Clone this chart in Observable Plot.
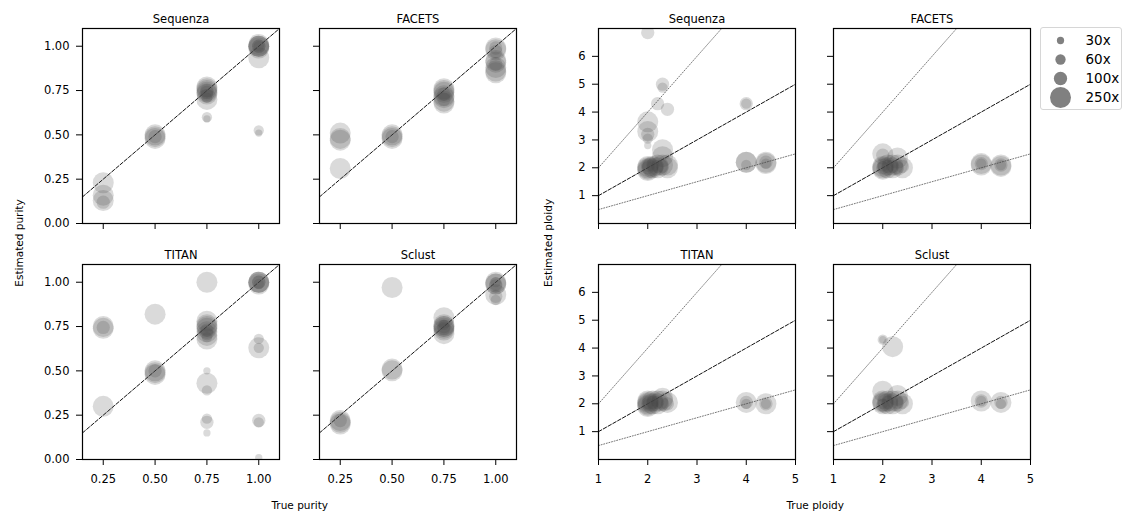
<!DOCTYPE html>
<html>
<head>
<meta charset="utf-8">
<script src="https://cdn.jsdelivr.net/npm/d3@7"></script>
<script src="https://cdn.jsdelivr.net/npm/@observablehq/plot@0.6"></script>
<style>
  body { margin: 0; background: #fff; }
  #chart { position: relative; width: 1123px; height: 514px; background: #fff; font-family: "DejaVu Sans", sans-serif; overflow: hidden; }
  .panel { position: absolute; }
  .lab { position: absolute; font-size: 10.5px; color: #000; white-space: nowrap; font-family: "DejaVu Sans", sans-serif; }
  #legend { position: absolute; left: 1040px; top: 27px; width: 82px; height: 83px; box-sizing: border-box; border: 1px solid #d6d6d6; border-radius: 3px; background: #fff; }
</style>
</head>
<body>
<div id="chart"></div>
<script>
// ---------- data ----------
const methods = ["Sequenza", "FACETS", "TITAN", "Sclust"];
const coverageLevels = [30, 60, 100, 250];
const coverageLabels = ["30x", "60x", "100x", "250x"];

const purityXDomain = [0.15, 1.1];
const purityYDomain = [0, 1.1];
const purityXTicks = [0.25, 0.5, 0.75, 1.0];
const purityYTicks = [0, 0.25, 0.5, 0.75, 1.0];

const ploidyXDomain = [1, 5];
const ploidyYDomain = [0, 7];
const ploidyXTicks = [1, 2, 3, 4, 5];
const ploidyYTicks = [1, 2, 3, 4, 5, 6];
const ploidyRefSlopes = [1, 2, 0.5];   // y = x (dashed), y = 2x, y = x/2 (dotted)

// [true, estimated, coverage]
const sequenzaPurity = [
  [0.25,0.23,250],[0.25,0.16,250],[0.25,0.13,250],[0.25,0.12,100],
  [0.5,0.50,250],[0.5,0.49,250],[0.5,0.49,100],[0.5,0.48,250],
  [0.75,0.77,250],[0.75,0.76,250],[0.75,0.75,250],[0.75,0.75,100],[0.75,0.74,250],[0.75,0.74,100],[0.75,0.73,250],[0.75,0.72,100],[0.75,0.71,60],[0.75,0.70,250],
  [0.75,0.60,60],[0.75,0.59,30],
  [1,1.00,250],[1,1.00,250],[1,1.00,250],[1,1.00,100],[1,1.00,100],[1,0.99,250],[1,1.01,250],[1,1.00,60],
  [1,0.935,250],
  [1,0.525,60],[1,0.51,30]
];
const facetsPurity = [
  [0.25,0.51,250],[0.25,0.48,250],[0.25,0.47,250],[0.25,0.31,250],
  [0.5,0.50,250],[0.5,0.49,250],[0.5,0.49,100],[0.5,0.48,250],
  [0.75,0.76,250],[0.75,0.75,250],[0.75,0.74,250],[0.75,0.73,100],[0.75,0.72,250],[0.75,0.71,250],[0.75,0.70,100],[0.75,0.69,250],[0.75,0.68,250],
  [1,0.99,250],[1,0.98,250],[1,0.97,100],[1,0.99,100],[1,0.92,250],[1,0.91,250],[1,0.90,100],[1,0.88,250],[1,0.86,250],[1,0.85,250]
];
const titanPurity = [
  [0.25,0.75,250],[0.25,0.74,250],[0.25,0.745,100],[0.25,0.30,250],
  [0.5,0.82,250],[0.5,0.50,250],[0.5,0.49,250],[0.5,0.48,250],[0.5,0.50,100],
  [0.75,1.00,250],
  [0.75,0.78,250],[0.75,0.76,250],[0.75,0.75,250],[0.75,0.74,250],[0.75,0.73,100],[0.75,0.72,250],[0.75,0.71,100],[0.75,0.70,250],[0.75,0.69,60],[0.75,0.68,250],
  [0.75,0.50,30],[0.75,0.43,250],[0.75,0.39,60],[0.75,0.23,60],[0.75,0.21,100],[0.75,0.15,30],
  [1,1.00,250],[1,1.00,250],[1,1.00,250],[1,0.99,250],[1,1.00,100],[1,1.00,100],[1,0.99,60],
  [1,0.68,60],[1,0.63,250],[1,0.63,60],[1,0.22,100],[1,0.21,60],[1,0.01,30]
];
const sclustPurity = [
  [0.25,0.22,250],[0.25,0.21,250],[0.25,0.22,100],[0.25,0.20,250],
  [0.5,0.97,250],[0.5,0.51,250],[0.5,0.50,250],
  [0.75,0.80,250],[0.75,0.76,250],[0.75,0.75,250],[0.75,0.75,250],[0.75,0.74,250],[0.75,0.75,100],[0.75,0.74,100],[0.75,0.76,60],[0.75,0.73,250],[0.75,0.71,250],
  [1,0.99,250],[1,1.00,250],[1,0.99,250],[1,0.98,100],[1,0.99,100],[1,1.00,60],[1,0.93,250],[1,0.92,100],[1,0.90,60]
];

const sequenzaPloidy = [
  [2.0,6.85,100],[2.0,3.65,250],[2.0,3.3,250],[2.0,3.2,100],[2.0,3.05,60],[2.0,2.8,30],
  [2.2,4.3,100],[2.3,5.0,100],[2.3,4.88,60],[2.4,4.1,100],
  [2.0,2.05,250],[2.0,2.0,250],[2.0,1.95,250],[2.0,2.0,100],[2.0,1.9,250],[2.0,2.1,100],
  [2.1,2.05,250],[2.1,2.0,250],[2.1,2.1,100],
  [2.2,2.1,250],[2.2,2.0,250],[2.2,2.05,100],
  [2.3,2.65,250],[2.3,2.4,250],[2.3,2.1,250],[2.3,2.05,100],
  [2.4,2.1,250],[2.4,2.0,250],
  [4.0,4.3,100],[4.0,4.3,60],[4.0,2.2,250],[4.0,2.2,250],[4.0,2.1,60],
  [4.4,2.2,250],[4.4,2.15,250],[4.4,2.2,100],[4.4,2.15,60]
];
const facetsPloidy = [
  [2.0,2.5,250],[2.0,2.45,100],[2.0,2.05,250],[2.0,2.0,250],[2.0,1.95,250],[2.0,2.0,100],[2.0,2.05,60],
  [2.1,2.1,250],[2.1,2.0,250],[2.1,2.05,100],
  [2.2,2.1,250],[2.2,2.0,250],[2.2,2.05,100],
  [2.3,2.35,250],[2.3,2.1,250],[2.3,2.0,100],
  [2.4,2.0,250],[2.4,2.05,100],
  [4.0,2.15,250],[4.0,2.15,100],[4.0,2.15,60],[4.0,2.1,250],
  [4.4,2.1,250],[4.4,2.1,100],[4.4,2.1,60],[4.4,2.05,250]
];
const titanPloidy = [
  [2.0,2.05,250],[2.0,2.0,250],[2.0,1.95,250],[2.0,2.0,100],[2.0,2.1,250],[2.0,1.9,250],[2.0,2.0,60],
  [2.1,2.1,250],[2.1,2.0,250],[2.1,2.05,100],
  [2.2,2.1,250],[2.2,2.0,250],[2.2,2.05,100],
  [2.3,2.2,250],[2.3,2.1,250],[2.3,2.0,100],
  [2.4,2.05,250],[2.4,2.0,100],
  [4.0,2.05,250],[4.0,2.05,100],[4.0,2.0,60],
  [4.4,2.0,250],[4.4,2.0,100],[4.4,2.0,60]
];
const sclustPloidy = [
  [2.0,4.3,60],[2.0,4.3,30],[2.2,4.05,250],
  [2.0,2.45,250],[2.0,2.1,250],[2.0,2.05,250],[2.0,2.0,250],[2.0,1.95,100],[2.0,2.0,60],
  [2.1,2.1,250],[2.1,2.0,250],[2.1,2.05,100],
  [2.2,2.1,250],[2.2,2.0,250],
  [2.3,2.3,250],[2.3,2.1,250],[2.3,2.05,100],
  [2.4,2.0,250],[2.4,2.05,100],
  [4.0,2.1,250],[4.0,2.1,100],[4.0,2.1,60],
  [4.4,2.05,250],[4.4,2.05,100],[4.4,2.0,60]
];

// ---------- layout ----------
const FW = 197, FH = 195;
const ML = 48, MR = 6, MT = 24, MB = 30;
const colLeft = [82, 319, 598, 833];
const rowTop = [28, 264];
const rScale = {type: "sqrt", domain: [0, 250], range: [0, 10.5]};
const legendRScale = {type: "sqrt", domain: [0, 250], range: [0, 10.5]};
const pointFill = "#444";
const pointOpacity = 0.2;

const chart = document.getElementById("chart");

function panel(opts) {
  const {data, title, xDomain, yDomain, xTicks, yTicks, showX, showY, xFmt, yFmt, slopes} = opts;
  const refMarks = slopes.map((k, i) => Plot.line(xDomain, {
    x: d => d, y: d => d * k,
    stroke: i === 0 ? "#111" : "#666",
    strokeWidth: i === 0 ? 1 : 0.9,
    strokeDasharray: i === 0 ? "3.7,1.8" : "1,1.7",
    clip: true
  }));
  const svg = Plot.plot({
    width: FW + ML + MR, height: FH + MT + MB,
    marginLeft: ML, marginRight: MR, marginTop: MT, marginBottom: MB,
    style: {fontFamily: "DejaVu Sans, sans-serif", fontSize: "11.5px", background: "transparent", overflow: "visible", color: "#000"},
    x: {domain: xDomain},
    y: {domain: yDomain},
    r: rScale,
    marks: [
      ...refMarks,
      Plot.dot(data, {x: d => d[0], y: d => d[1], r: d => d[2], fill: pointFill, fillOpacity: pointOpacity, clip: true}),
      Plot.frame({stroke: "#000", strokeWidth: 1.2}),
      Plot.axisX({ticks: xTicks, tickSize: 6, tickPadding: 9, fontSize: 11.5, tickFormat: showX ? xFmt : () => "", label: null, stroke: "#000"}),
      Plot.axisY({ticks: yTicks, tickSize: 6, tickPadding: 7, fontSize: 11.5, tickFormat: showY ? yFmt : () => "", label: null, stroke: "#000"}),
      Plot.text([title], {frameAnchor: "top", dy: -6, lineAnchor: "bottom", fontSize: 11.5, fill: "#000"})
    ]
  });
  return svg;
}

function place(svg, col, row) {
  const wrap = document.createElement("div");
  wrap.className = "panel";
  wrap.style.left = (colLeft[col] - ML) + "px";
  wrap.style.top = (rowTop[row] - MT) + "px";
  wrap.appendChild(svg);
  chart.appendChild(wrap);
}

const purityData = [sequenzaPurity, facetsPurity, titanPurity, sclustPurity];
const ploidyData = [sequenzaPloidy, facetsPloidy, titanPloidy, sclustPloidy];
const f2 = d3.format(".2f");
const f0 = d => String(d);

methods.forEach((m, i) => {
  const col = i % 2, row = Math.floor(i / 2);
  place(panel({
    data: purityData[i], title: m,
    xDomain: purityXDomain, yDomain: purityYDomain,
    xTicks: purityXTicks, yTicks: purityYTicks,
    showX: row === 1, showY: col === 0, xFmt: f2, yFmt: f2,
    slopes: [1]
  }), col, row);
  place(panel({
    data: ploidyData[i], title: m,
    xDomain: ploidyXDomain, yDomain: ploidyYDomain,
    xTicks: ploidyXTicks, yTicks: ploidyYTicks,
    showX: row === 1, showY: col === 0, xFmt: f0, yFmt: f0,
    slopes: ploidyRefSlopes
  }), col + 2, row);
});

// axis titles
function label(text, x, y, rotate) {
  const d = document.createElement("div");
  d.className = "lab";
  d.textContent = text;
  chart.appendChild(d);
  const w = d.offsetWidth, h = d.offsetHeight;
  d.style.left = (x - w / 2) + "px";
  d.style.top = (y - h / 2) + "px";
  if (rotate) d.style.transform = "rotate(-90deg)";
}
label("True purity", 300, 505, false);
label("True ploidy", 815, 505, false);
label("Estimated purity", 18, 243, true);
label("Estimated ploidy", 548, 243, true);

// legend
const legendDiv = document.createElement("div");
legendDiv.id = "legend";
chart.appendChild(legendDiv);
const legendSvg = Plot.plot({
  width: 80, height: 81, margin: 0,
  style: {fontFamily: "DejaVu Sans, sans-serif", fontSize: "13px", background: "transparent", overflow: "visible", color: "#000"},
  y: {type: "point", domain: coverageLabels, range: [11, 70], padding: 0, axis: null},
  r: legendRScale,
  marks: [
    Plot.dot(coverageLevels, {y: (d, i) => coverageLabels[i], r: d => d, fill: "#808080", frameAnchor: "left", dx: 19}),
    Plot.text(coverageLabels, {y: d => d, text: d => d, frameAnchor: "left", dx: 44, textAnchor: "start", fontSize: 13.5, fill: "#000"})
  ]
});
legendDiv.appendChild(legendSvg);
</script>
</body>
</html>
